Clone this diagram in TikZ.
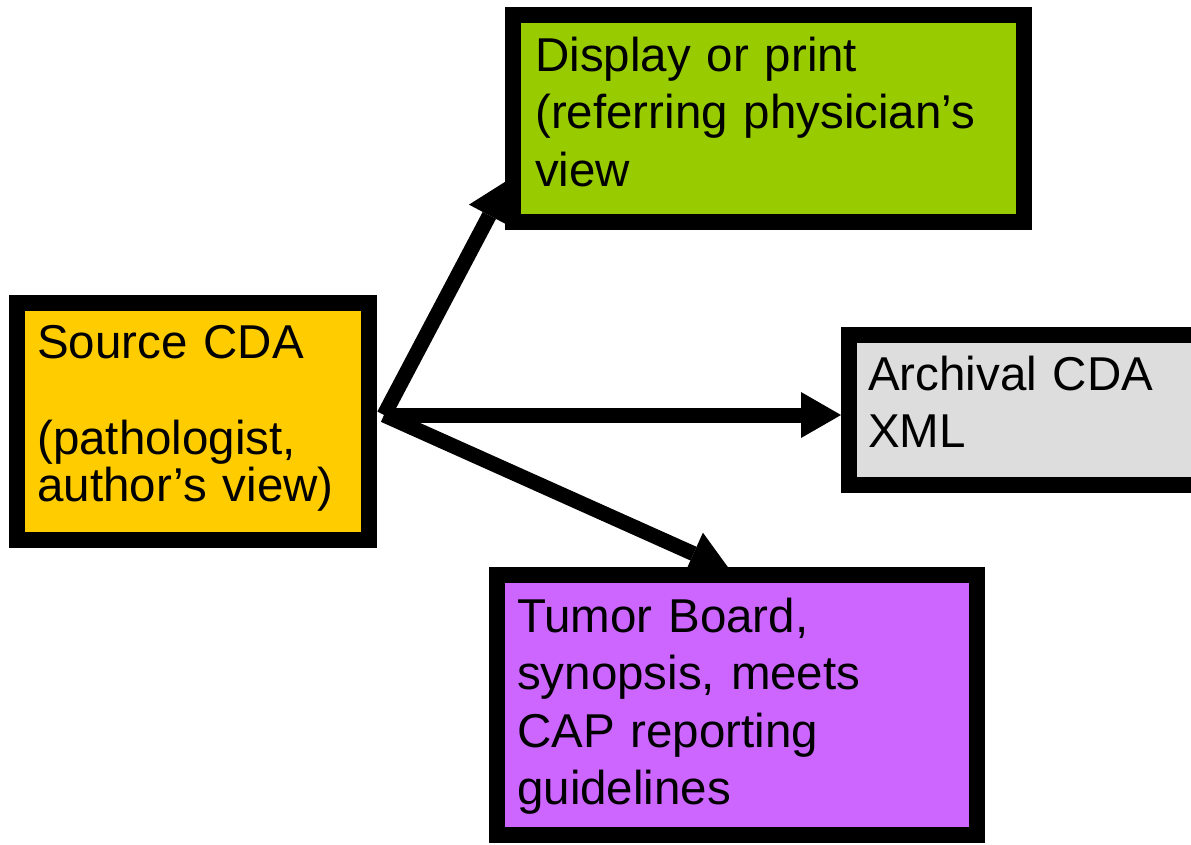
\documentclass[tikz,border=0pt]{standalone}
\usepackage{fontspec}
\setmainfont{Liberation Sans}
\usetikzlibrary{arrows.meta}
\definecolor{srcfill}{HTML}{FFCC00}
\definecolor{dispfill}{HTML}{99CC00}
\definecolor{archfill}{HTML}{DDDDDD}
\definecolor{tumorfill}{HTML}{CC66FF}
\pgfdeclarelayer{behind}
\pgfsetlayers{behind,main}
\begin{document}
\begin{tikzpicture}[x=1pt,y=-1pt,
  box/.style={draw=black, line width=16pt, rectangle, inner sep=0pt, anchor=north west},
  boxtext/.style={anchor=base west, inner sep=0pt, text width=#1, align=left,
    font=\fontsize{47.5}{57.5}\selectfont},
  flow/.style={line width=15pt, -{Triangle[length=40pt,width=46pt,line width=0pt]}}
]
\clip (0,0) rectangle (1191,844);

% boxes (outer corner, centre-line size)
\node[box, fill=srcfill,   minimum width=352pt, minimum height=237pt] (src)   at (9,295) {};
\node[box, fill=dispfill,  minimum width=511pt, minimum height=207pt] (disp)  at (505,7) {};
\node[box, fill=archfill,  minimum width=400pt, minimum height=150pt] (arch)  at (841,327) {};
\node[box, fill=tumorfill, minimum width=480pt, minimum height=260pt] (tumor) at (489,567) {};

% box texts
\node[boxtext=330pt, font=\fontsize{47.5}{47.5}\selectfont] (srctext) at (37,358)
  {Source CDA\\[48.5pt](pathologist,\\author’s view)};
\node[boxtext=480pt] (disptext) at (535,71)
  {Display or print\\(referring physician’s\\view};
\node[boxtext=320pt] (archtext) at (868,390)
  {Archival CDA\\XML};
\node[boxtext=450pt] (tumortext) at (517,632)
  {Tumor Board,\\synopsis, meets\\CAP reporting\\guidelines};

% connectors, drawn beneath the boxes
\coordinate (hub) at (384,415);
\begin{pgfonlayer}{behind}
  \draw[flow] (hub) -- ([xshift=3pt,yshift=50pt]disp.south west);
  \draw[flow] (hub) -- (hub -| arch.west);
  \draw[flow] (hub) -- ([xshift=241pt,yshift=-3pt]tumor.north west);
\end{pgfonlayer}
\end{tikzpicture}
\end{document}
